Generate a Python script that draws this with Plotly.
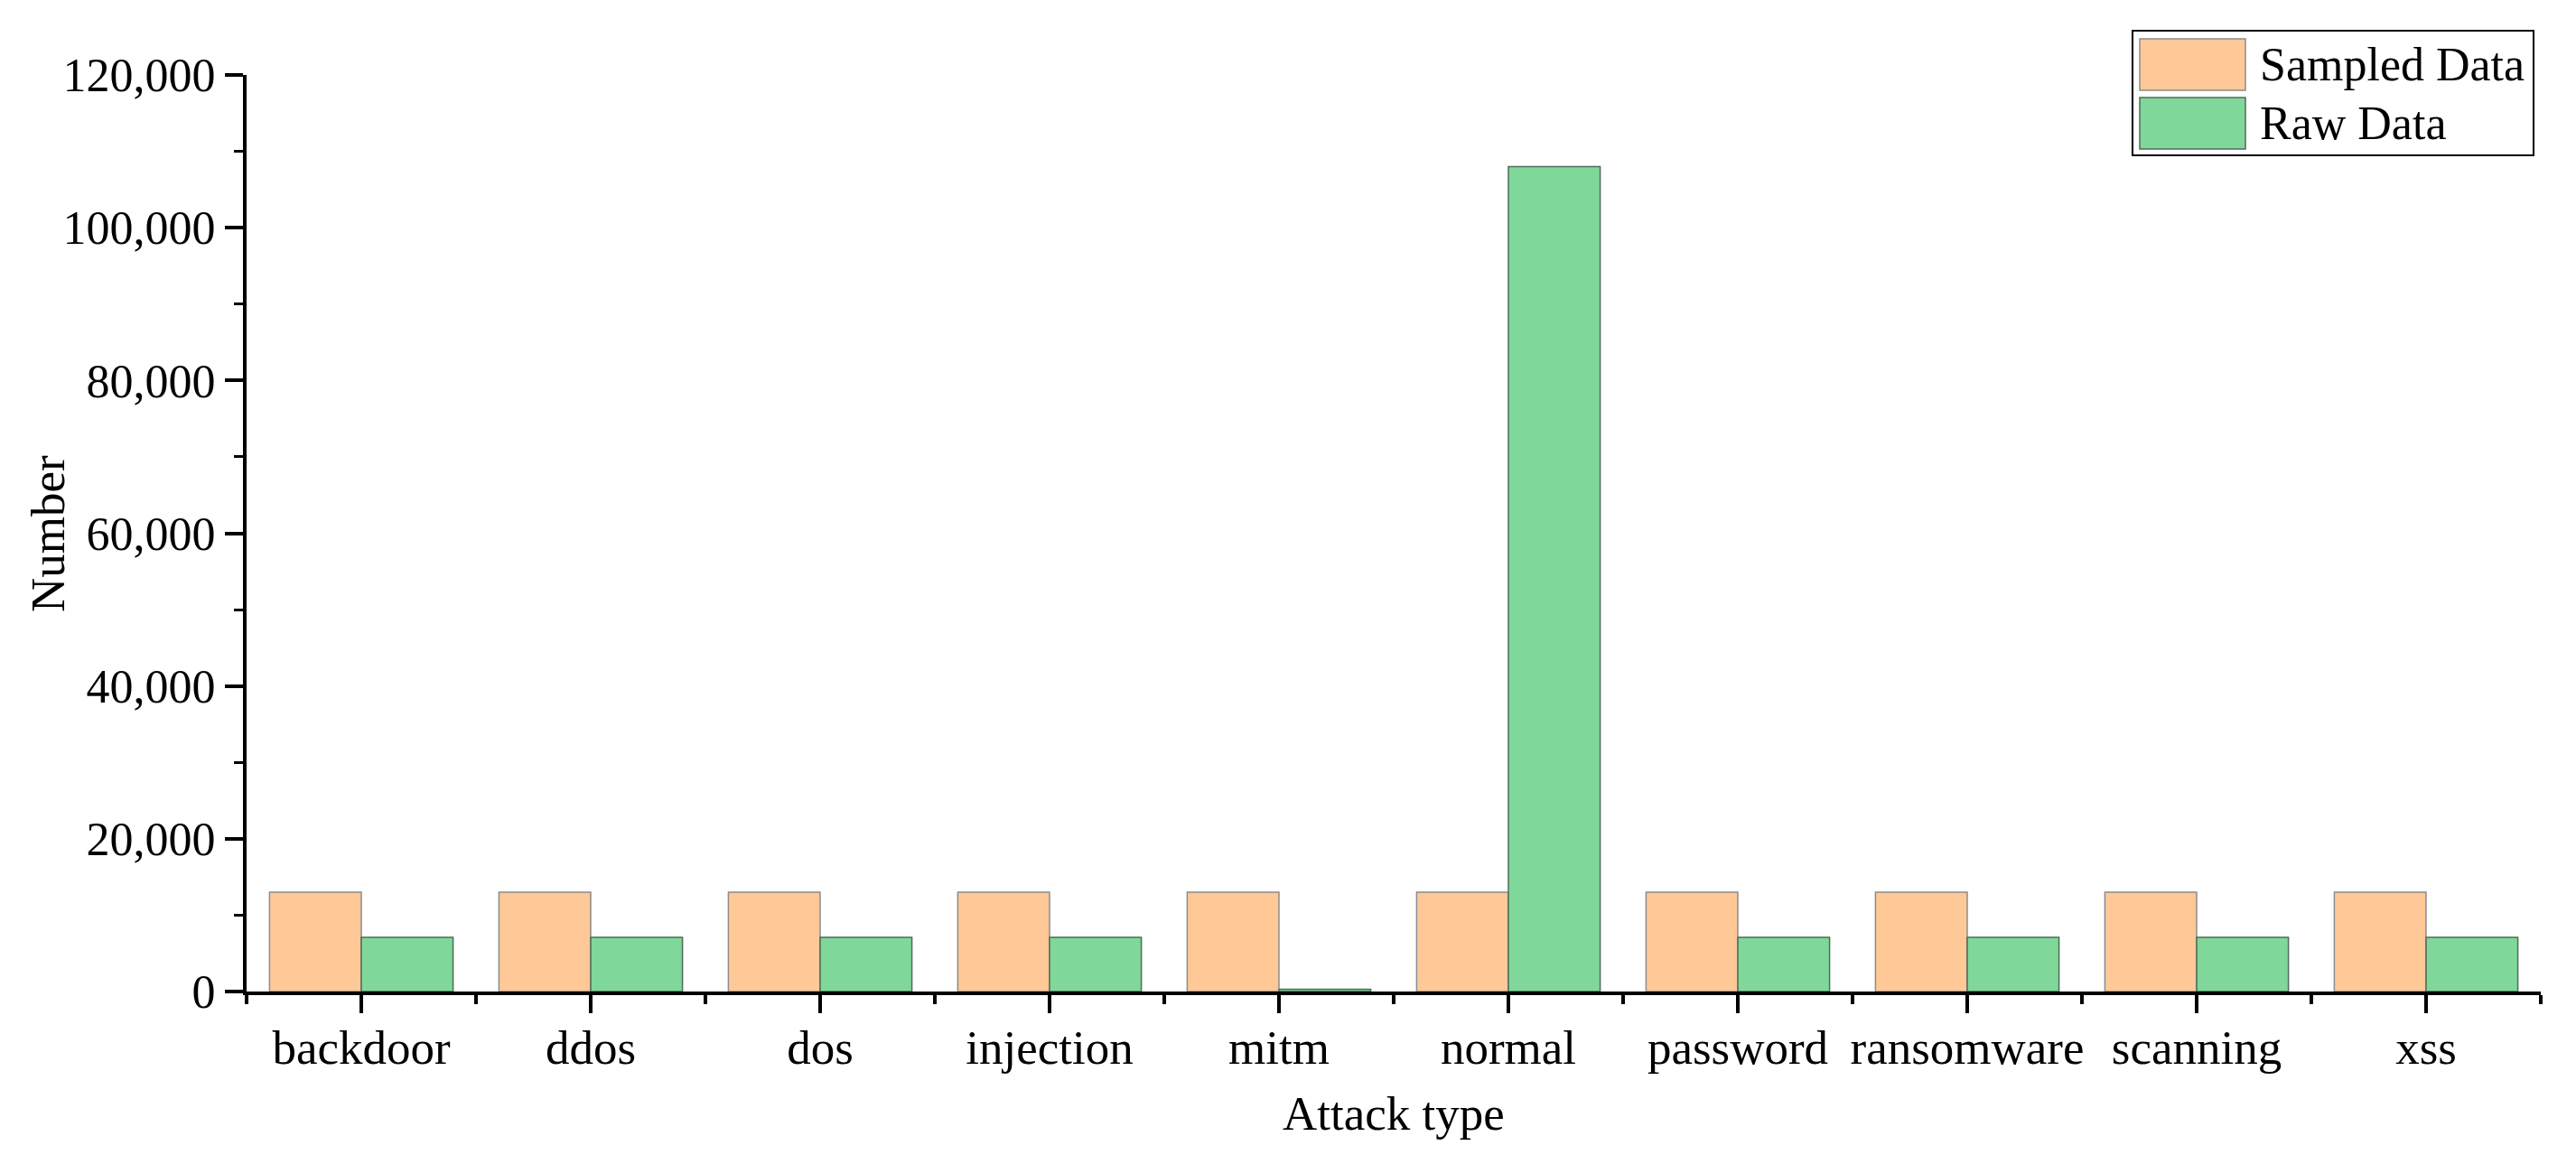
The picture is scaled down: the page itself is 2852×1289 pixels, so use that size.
import plotly.graph_objects as go

categories = ["backdoor", "ddos", "dos", "injection", "mitm", "normal",
              "password", "ransomware", "scanning", "xss"]
sampled = [13000, 13000, 13000, 13000, 13000, 13000, 13000, 13000, 13000, 13000]
raw = [7100, 7100, 7100, 7100, 300, 108000, 7100, 7100, 7100, 7100]
y_ticks = [0, 20000, 40000, 60000, 80000, 100000, 120000]
y_ticktext = ["0", "20,000", "40,000", "60,000", "80,000", "100,000", "120,000"]

# page is offset by the browser's default 8px body margin
OFF = 8
W, H = 2852 - 2 * OFF, 1289 - 2 * OFF
PLOT_L, PLOT_R, PLOT_T, PLOT_B = 273, 2813, 83, 1098   # page pixel coords of plot area
L, T = PLOT_L - OFF, PLOT_T - OFF
R = (OFF + W) - PLOT_R
B = (OFF + H) - PLOT_B
PW, PH = PLOT_R - PLOT_L, PLOT_B - PLOT_T
FONT = "Liberation Serif"
ORANGE = "#FFC897"
GREEN = "#7FD89A"

xpos = list(range(len(categories)))

fig = go.Figure()
fig.add_trace(go.Bar(x=xpos, y=sampled, name="Sampled Data",
                     marker=dict(color=ORANGE, line=dict(color="#8c8c8c", width=1.5))))
fig.add_trace(go.Bar(x=xpos, y=raw, name="Raw Data",
                     marker=dict(color=GREEN, line=dict(color="#4f6b58", width=1.5))))


def px2x(px):
    return (px - PLOT_L) / PW


def px2y(py):
    return (PLOT_B - py) / PH


shapes = []
annotations = []
# legend box
shapes.append(dict(type="rect", xref="paper", yref="paper",
                   x0=px2x(2361), x1=px2x(2805), y0=px2y(172), y1=px2y(34),
                   line=dict(color="black", width=2), fillcolor="white", layer="above"))
for name, col, lc, y0, y1 in [("Sampled Data", ORANGE, "#8c8c8c", 43, 100),
                              ("Raw Data", GREEN, "#4f6b58", 108, 165)]:
    shapes.append(dict(type="rect", xref="paper", yref="paper",
                       x0=px2x(2369), x1=px2x(2486), y0=px2y(y1), y1=px2y(y0),
                       line=dict(color=lc, width=1.5), fillcolor=col, layer="above"))
    annotations.append(dict(text=name, xref="paper", yref="paper",
                            x=px2x(2500), y=px2y((y0 + y1) / 2), xanchor="left", yanchor="middle",
                            showarrow=False, font=dict(family=FONT, size=52, color="black")))

annotations.append(dict(text="Attack type", xref="paper", yref="paper",
                        x=0.5, y=px2y(1233), xanchor="center", yanchor="middle",
                        showarrow=False, font=dict(family=FONT, size=53, color="black")))
annotations.append(dict(text="Number", xref="paper", yref="paper",
                        x=px2x(53), y=px2y(591), xanchor="center", yanchor="middle", textangle=-90,
                        showarrow=False, font=dict(family=FONT, size=53, color="black")))

fig.update_layout(
    width=W, height=H,
    margin=dict(l=L, r=R, t=T, b=B, pad=0),
    paper_bgcolor="white", plot_bgcolor="white",
    barmode="group", bargap=0.2, bargroupgap=0,
    showlegend=False,
    font=dict(family=FONT, size=52, color="black"),
    shapes=shapes, annotations=annotations,
)
fig.update_xaxes(
    type="linear", range=[-0.5, len(categories) - 0.5],
    tickmode="array", tickvals=xpos, ticktext=categories,
    ticks="outside", ticklen=20, tickwidth=4, tickcolor="black",
    minor=dict(ticks="outside", ticklen=10, tickwidth=4, tickcolor="black",
               tick0=-0.5, dtick=1, showgrid=False),
    showline=True, linewidth=4, linecolor="black",
    showgrid=False, zeroline=False,
    ticklabelstandoff=-8,
    tickfont=dict(family=FONT, size=53, color="black"),
)
fig.update_yaxes(
    range=[0, 120000],
    tickmode="array", tickvals=y_ticks, ticktext=y_ticktext,
    ticks="outside", ticklen=20, tickwidth=4, tickcolor="black",
    minor=dict(ticks="outside", ticklen=10, tickwidth=3, tickcolor="black",
               tick0=0, dtick=10000, showgrid=False),
    showline=True, linewidth=4, linecolor="black",
    showgrid=False, zeroline=False,
    tickfont=dict(family=FONT, size=52, color="black"),
)

fig.write_html("out.html")
